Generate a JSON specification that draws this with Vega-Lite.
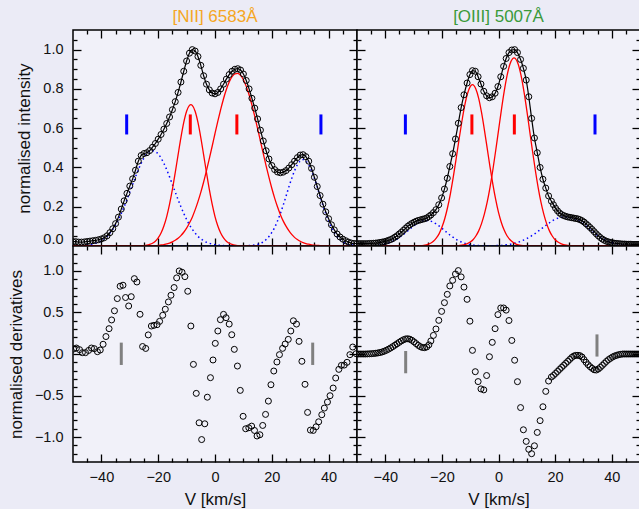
{
"$schema":"https://vega.github.io/schema/vega-lite/v6.json",
"background":"#ebebf6",
"padding":{"left":6,"top":7,"right":0,"bottom":0},
"columns":2,
"spacing":0,
"bounds":"flush",
"config":{
 "view":{"stroke":"#000","strokeWidth":1.5,"fill":"#f1f1f9"},
 "font":"Liberation Sans",
 "axis":{"domain":false,"grid":false,"tickColor":"#000","tickWidth":1.3,"labelFont":"Liberation Sans","labelFontSize":14.5,"labelColor":"#111","titleFont":"Liberation Sans","titleFontSize":17,"titleFontWeight":"normal","titleColor":"#111"},
 "title":{"font":"Liberation Sans","fontSize":17,"fontWeight":"normal"}
},
"datasets":{
"nii":[{"v":-50,"o":0.022},{"v":-49,"o":0.022},{"v":-48,"o":0.02},{"v":-47,"o":0.02},{"v":-46,"o":0.021},{"v":-45,"o":0.023},{"v":-44,"o":0.025},{"v":-43,"o":0.027},{"v":-42,"o":0.029},{"v":-41,"o":0.032},{"v":-40,"o":0.036},{"v":-39,"o":0.042},{"v":-38,"o":0.052},{"v":-37,"o":0.068},{"v":-36,"o":0.088},{"v":-35,"o":0.114},{"v":-34,"o":0.147},{"v":-33,"o":0.188},{"v":-32,"o":0.23},{"v":-31,"o":0.268},{"v":-30,"o":0.305},{"v":-29,"o":0.342},{"v":-28,"o":0.386},{"v":-27,"o":0.432},{"v":-26,"o":0.461},{"v":-25,"o":0.471},{"v":-24,"o":0.475},{"v":-23,"o":0.486},{"v":-22,"o":0.503},{"v":-21,"o":0.522},{"v":-20,"o":0.544},{"v":-19,"o":0.568},{"v":-18,"o":0.595},{"v":-17,"o":0.624},{"v":-16,"o":0.657},{"v":-15,"o":0.694},{"v":-14,"o":0.735},{"v":-13,"o":0.782},{"v":-12,"o":0.835},{"v":-11,"o":0.89},{"v":-10,"o":0.942},{"v":-9,"o":0.982},{"v":-8,"o":1.0},{"v":-7,"o":0.993},{"v":-6,"o":0.965},{"v":-5,"o":0.92},{"v":-4,"o":0.867},{"v":-3,"o":0.824},{"v":-2,"o":0.795},{"v":-1,"o":0.779},{"v":0,"o":0.775},{"v":1,"o":0.782},{"v":2,"o":0.8},{"v":3,"o":0.824},{"v":4,"o":0.85},{"v":5,"o":0.873},{"v":6,"o":0.89},{"v":7,"o":0.9},{"v":8,"o":0.903},{"v":9,"o":0.896},{"v":10,"o":0.876},{"v":11,"o":0.843},{"v":12,"o":0.8},{"v":13,"o":0.752},{"v":14,"o":0.702},{"v":15,"o":0.647},{"v":16,"o":0.59},{"v":17,"o":0.535},{"v":18,"o":0.485},{"v":19,"o":0.443},{"v":20,"o":0.41},{"v":21,"o":0.389},{"v":22,"o":0.377},{"v":23,"o":0.373},{"v":24,"o":0.376},{"v":25,"o":0.384},{"v":26,"o":0.397},{"v":27,"o":0.414},{"v":28,"o":0.432},{"v":29,"o":0.45},{"v":30,"o":0.463},{"v":31,"o":0.465},{"v":32,"o":0.455},{"v":33,"o":0.432},{"v":34,"o":0.395},{"v":35,"o":0.35},{"v":36,"o":0.303},{"v":37,"o":0.257},{"v":38,"o":0.213},{"v":39,"o":0.174},{"v":40,"o":0.139},{"v":41,"o":0.108},{"v":42,"o":0.082},{"v":43,"o":0.061},{"v":44,"o":0.046},{"v":45,"o":0.035},{"v":46,"o":0.027},{"v":47,"o":0.02},{"v":48,"o":0.015},{"v":49,"o":0.013},{"v":50,"o":0.012}],
"niid":[{"v":-49.8,"d":0.06},{"v":-48.8,"d":0.072},{"v":-47.7,"d":0.052},{"v":-46.7,"d":0.016},{"v":-45.6,"d":0.016},{"v":-44.5,"d":0.043},{"v":-43.5,"d":0.072},{"v":-42.5,"d":0.064},{"v":-41.4,"d":0.028},{"v":-40.4,"d":0.048},{"v":-39.4,"d":0.117},{"v":-38.4,"d":0.21},{"v":-37.3,"d":0.305},{"v":-36.4,"d":0.41},{"v":-35.4,"d":0.52},{"v":-34.4,"d":0.667},{"v":-33.4,"d":0.816},{"v":-32.4,"d":0.828},{"v":-31.5,"d":0.68},{"v":-30.4,"d":0.578},{"v":-29.5,"d":0.69},{"v":-28.4,"d":0.907},{"v":-27.5,"d":0.867},{"v":-26.4,"d":0.478},{"v":-25.5,"d":0.09},{"v":-24.4,"d":0.067},{"v":-23.5,"d":0.23},{"v":-22.4,"d":0.337},{"v":-21.5,"d":0.345},{"v":-20.4,"d":0.353},{"v":-19.5,"d":0.393},{"v":-18.4,"d":0.466},{"v":-17.5,"d":0.539},{"v":-16.4,"d":0.627},{"v":-15.5,"d":0.707},{"v":-14.4,"d":0.8},{"v":-13.5,"d":0.916},{"v":-12.6,"d":1.0},{"v":-11.6,"d":0.984},{"v":-10.6,"d":0.931},{"v":-9.6,"d":0.755},{"v":-8.5,"d":0.337},{"v":-7.6,"d":-0.125},{"v":-6.6,"d":-0.474},{"v":-5.6,"d":-0.828},{"v":-4.7,"d":-1.03},{"v":-3.6,"d":-0.84},{"v":-2.7,"d":-0.52},{"v":-1.6,"d":-0.285},{"v":-0.7,"d":-0.072},{"v":0.1,"d":0.128},{"v":1.0,"d":0.277},{"v":1.9,"d":0.413},{"v":3.0,"d":0.477},{"v":3.9,"d":0.437},{"v":5.0,"d":0.36},{"v":5.9,"d":0.232},{"v":6.8,"d":0.056},{"v":7.9,"d":-0.145},{"v":8.9,"d":-0.438},{"v":9.9,"d":-0.75},{"v":10.8,"d":-0.9},{"v":11.9,"d":-0.888},{"v":12.9,"d":-0.868},{"v":13.9,"d":-0.92},{"v":14.8,"d":-0.987},{"v":15.8,"d":-0.972},{"v":16.8,"d":-0.86},{"v":17.8,"d":-0.727},{"v":18.8,"d":-0.567},{"v":19.7,"d":-0.37},{"v":20.7,"d":-0.205},{"v":21.8,"d":-0.096},{"v":22.7,"d":-0.008},{"v":23.8,"d":0.068},{"v":24.7,"d":0.12},{"v":25.8,"d":0.176},{"v":26.7,"d":0.277},{"v":27.6,"d":0.4},{"v":28.7,"d":0.36},{"v":29.6,"d":0.152},{"v":30.6,"d":-0.088},{"v":31.7,"d":-0.365},{"v":32.6,"d":-0.703},{"v":33.6,"d":-0.916},{"v":34.6,"d":-0.92},{"v":35.6,"d":-0.876},{"v":36.5,"d":-0.816},{"v":37.6,"d":-0.731},{"v":38.5,"d":-0.651},{"v":39.6,"d":-0.578},{"v":40.5,"d":-0.502},{"v":41.6,"d":-0.41},{"v":42.5,"d":-0.289},{"v":43.6,"d":-0.185},{"v":44.5,"d":-0.137},{"v":45.5,"d":-0.133},{"v":46.5,"d":-0.1},{"v":47.5,"d":-0.008},{"v":48.5,"d":0.084},{"v":49.7,"d":0.004}],
"oiii":[{"v":-50.1,"o":0.012,"d":0},{"v":-49.35,"o":0.012,"d":0},{"v":-48.6,"o":0.012,"d":0},{"v":-47.85,"o":0.012,"d":0},{"v":-47.1,"o":0.012,"d":0},{"v":-46.35,"o":0.012,"d":0.001},{"v":-45.6,"o":0.013,"d":0.002},{"v":-44.85,"o":0.013,"d":0.004},{"v":-44.1,"o":0.014,"d":0.006},{"v":-43.35,"o":0.015,"d":0.009},{"v":-42.6,"o":0.016,"d":0.013},{"v":-41.85,"o":0.018,"d":0.018},{"v":-41.1,"o":0.02,"d":0.025},{"v":-40.35,"o":0.022,"d":0.034},{"v":-39.6,"o":0.025,"d":0.045},{"v":-38.85,"o":0.029,"d":0.058},{"v":-38.1,"o":0.033,"d":0.073},{"v":-37.35,"o":0.038,"d":0.089},{"v":-36.6,"o":0.045,"d":0.106},{"v":-35.85,"o":0.052,"d":0.123},{"v":-35.1,"o":0.061,"d":0.14},{"v":-34.35,"o":0.07,"d":0.157},{"v":-33.6,"o":0.08,"d":0.171},{"v":-32.85,"o":0.09,"d":0.181},{"v":-32.1,"o":0.1,"d":0.184},{"v":-31.35,"o":0.108,"d":0.178},{"v":-30.6,"o":0.115,"d":0.165},{"v":-29.85,"o":0.121,"d":0.146},{"v":-29.1,"o":0.126,"d":0.125},{"v":-28.35,"o":0.13,"d":0.104},{"v":-27.6,"o":0.133,"d":0.088},{"v":-26.85,"o":0.136,"d":0.078},{"v":-26.1,"o":0.139,"d":0.076},{"v":-25.35,"o":0.143,"d":0.085},{"v":-24.6,"o":0.15,"d":0.11},{"v":-23.9,"o":0.158,"d":0.157},{"v":-23.0,"o":0.17,"d":0.224},{"v":-22.1,"o":0.185,"d":0.301},{"v":-21.1,"o":0.21,"d":0.405},{"v":-20.1,"o":0.245,"d":0.513},{"v":-19.1,"o":0.29,"d":0.618},{"v":-18.1,"o":0.345,"d":0.718},{"v":-17.2,"o":0.405,"d":0.819},{"v":-16.2,"o":0.47,"d":0.887},{"v":-15.2,"o":0.545,"d":0.963},{"v":-14.2,"o":0.625,"d":1.004},{"v":-13.2,"o":0.705,"d":0.928},{"v":-12.2,"o":0.77,"d":0.805},{"v":-11.1,"o":0.83,"d":0.658},{"v":-10.1,"o":0.873,"d":0.395},{"v":-9.2,"o":0.893,"d":0.044},{"v":-8.2,"o":0.89,"d":-0.213},{"v":-7.2,"o":0.862,"d":-0.332},{"v":-6.2,"o":0.825,"d":-0.42},{"v":-5.2,"o":0.788,"d":-0.432},{"v":-4.2,"o":0.765,"d":-0.259},{"v":-3.2,"o":0.755,"d":-0.033},{"v":-2.2,"o":0.76,"d":0.14},{"v":-1.2,"o":0.778,"d":0.305},{"v":-0.2,"o":0.812,"d":0.474},{"v":0.8,"o":0.862,"d":0.554},{"v":1.8,"o":0.915,"d":0.554},{"v":2.7,"o":0.955,"d":0.528},{"v":3.7,"o":0.985,"d":0.403},{"v":4.7,"o":0.998,"d":0.163},{"v":5.7,"o":1.0,"d":-0.075},{"v":6.7,"o":0.985,"d":-0.333},{"v":7.8,"o":0.95,"d":-0.645},{"v":8.8,"o":0.905,"d":-0.912},{"v":9.8,"o":0.845,"d":-1.052},{"v":10.7,"o":0.76,"d":-1.147},{"v":11.7,"o":0.65,"d":-1.2},{"v":12.7,"o":0.55,"d":-1.105},{"v":13.7,"o":0.475,"d":-0.944},{"v":14.7,"o":0.4,"d":-0.802},{"v":15.7,"o":0.34,"d":-0.635},{"v":16.7,"o":0.295,"d":-0.45},{"v":17.7,"o":0.255,"d":-0.325},{"v":18.7,"o":0.228,"d":-0.277},{"v":19.42,"o":0.21,"d":-0.258},{"v":20.14,"o":0.193,"d":-0.234},{"v":20.86,"o":0.179,"d":-0.21},{"v":21.58,"o":0.168,"d":-0.185},{"v":22.3,"o":0.16,"d":-0.161},{"v":23.02,"o":0.155,"d":-0.137},{"v":23.74,"o":0.151,"d":-0.113},{"v":24.46,"o":0.148,"d":-0.089},{"v":25.18,"o":0.146,"d":-0.065},{"v":25.9,"o":0.144,"d":-0.041},{"v":26.62,"o":0.142,"d":-0.024},{"v":27.34,"o":0.14,"d":-0.016},{"v":28.06,"o":0.138,"d":-0.016},{"v":28.78,"o":0.134,"d":-0.02},{"v":29.5,"o":0.129,"d":-0.036},{"v":30.22,"o":0.122,"d":-0.068},{"v":30.94,"o":0.113,"d":-0.1},{"v":31.66,"o":0.104,"d":-0.129},{"v":32.38,"o":0.094,"d":-0.153},{"v":33.1,"o":0.084,"d":-0.173},{"v":33.82,"o":0.073,"d":-0.19},{"v":34.54,"o":0.062,"d":-0.193},{"v":35.26,"o":0.052,"d":-0.181},{"v":35.98,"o":0.043,"d":-0.161},{"v":36.7,"o":0.035,"d":-0.137},{"v":37.42,"o":0.029,"d":-0.113},{"v":38.14,"o":0.024,"d":-0.089},{"v":38.86,"o":0.021,"d":-0.068},{"v":39.58,"o":0.018,"d":-0.052},{"v":40.3,"o":0.016,"d":-0.036},{"v":41.02,"o":0.014,"d":-0.024},{"v":41.74,"o":0.013,"d":-0.016},{"v":42.46,"o":0.012,"d":-0.008},{"v":43.18,"o":0.011,"d":-0.004},{"v":43.9,"o":0.01,"d":0},{"v":44.62,"o":0.01,"d":0},{"v":45.34,"o":0.009,"d":0},{"v":46.06,"o":0.009,"d":0},{"v":46.78,"o":0.009,"d":0},{"v":47.5,"o":0.008,"d":0},{"v":48.22,"o":0.008,"d":0},{"v":48.94,"o":0.008,"d":0},{"v":49.66,"o":0.008,"d":0},{"v":50.38,"o":0.008,"d":0}],
"niic":[
{"s":"r1","v":-50,"y":0},{"s":"r1","v":-27,"y":0},{"s":"r1","v":-26,"y":0.001},{"s":"r1","v":-25,"y":0.002},{"s":"r1","v":-24,"y":0.004},{"s":"r1","v":-23,"y":0.008},{"s":"r1","v":-22,"y":0.014},{"s":"r1","v":-21,"y":0.024},{"s":"r1","v":-20,"y":0.041},{"s":"r1","v":-19,"y":0.066},{"s":"r1","v":-18,"y":0.102},{"s":"r1","v":-17,"y":0.15},{"s":"r1","v":-16,"y":0.213},{"s":"r1","v":-15,"y":0.288},{"s":"r1","v":-14,"y":0.374},{"s":"r1","v":-13,"y":0.464},{"s":"r1","v":-12,"y":0.552},{"s":"r1","v":-11,"y":0.629},{"s":"r1","v":-10,"y":0.686},{"s":"r1","v":-9,"y":0.716},{"s":"r1","v":-8.5,"y":0.72},{"s":"r1","v":-8,"y":0.716},{"s":"r1","v":-7,"y":0.686},{"s":"r1","v":-6,"y":0.629},{"s":"r1","v":-5,"y":0.552},{"s":"r1","v":-4,"y":0.464},{"s":"r1","v":-3,"y":0.374},{"s":"r1","v":-2,"y":0.288},{"s":"r1","v":-1,"y":0.213},{"s":"r1","v":0,"y":0.15},{"s":"r1","v":1,"y":0.102},{"s":"r1","v":2,"y":0.066},{"s":"r1","v":3,"y":0.041},{"s":"r1","v":4,"y":0.024},{"s":"r1","v":5,"y":0.014},{"s":"r1","v":6,"y":0.008},{"s":"r1","v":7,"y":0.004},{"s":"r1","v":8,"y":0.002},{"s":"r1","v":9,"y":0.001},{"s":"r1","v":10,"y":0},{"s":"r1","v":50,"y":0},
{"s":"r2","v":-50,"y":0},{"s":"r2","v":-21,"y":0},{"s":"r2","v":-20,"y":0.003},{"s":"r2","v":-19,"y":0.005},{"s":"r2","v":-18,"y":0.007},{"s":"r2","v":-17,"y":0.011},{"s":"r2","v":-16,"y":0.015},{"s":"r2","v":-15,"y":0.021},{"s":"r2","v":-14,"y":0.029},{"s":"r2","v":-13,"y":0.039},{"s":"r2","v":-12,"y":0.053},{"s":"r2","v":-11,"y":0.07},{"s":"r2","v":-10,"y":0.091},{"s":"r2","v":-9,"y":0.117},{"s":"r2","v":-8,"y":0.147},{"s":"r2","v":-7,"y":0.184},{"s":"r2","v":-6,"y":0.226},{"s":"r2","v":-5,"y":0.273},{"s":"r2","v":-4,"y":0.326},{"s":"r2","v":-3,"y":0.384},{"s":"r2","v":-2,"y":0.445},{"s":"r2","v":-1,"y":0.508},{"s":"r2","v":0,"y":0.573},{"s":"r2","v":1,"y":0.636},{"s":"r2","v":2,"y":0.695},{"s":"r2","v":3,"y":0.75},{"s":"r2","v":4,"y":0.797},{"s":"r2","v":5,"y":0.835},{"s":"r2","v":6,"y":0.862},{"s":"r2","v":7,"y":0.877},{"s":"r2","v":8,"y":0.879},{"s":"r2","v":9,"y":0.869},{"s":"r2","v":10,"y":0.847},{"s":"r2","v":11,"y":0.813},{"s":"r2","v":12,"y":0.77},{"s":"r2","v":13,"y":0.718},{"s":"r2","v":14,"y":0.66},{"s":"r2","v":15,"y":0.598},{"s":"r2","v":16,"y":0.534},{"s":"r2","v":17,"y":0.47},{"s":"r2","v":18,"y":0.408},{"s":"r2","v":19,"y":0.349},{"s":"r2","v":20,"y":0.294},{"s":"r2","v":21,"y":0.244},{"s":"r2","v":22,"y":0.2},{"s":"r2","v":23,"y":0.161},{"s":"r2","v":24,"y":0.128},{"s":"r2","v":25,"y":0.101},{"s":"r2","v":26,"y":0.078},{"s":"r2","v":27,"y":0.059},{"s":"r2","v":28,"y":0.044},{"s":"r2","v":29,"y":0.033},{"s":"r2","v":30,"y":0.024},{"s":"r2","v":31,"y":0.017},{"s":"r2","v":32,"y":0.012},{"s":"r2","v":33,"y":0.009},{"s":"r2","v":34,"y":0.006},{"s":"r2","v":35,"y":0.004},{"s":"r2","v":36,"y":0.003},{"s":"r2","v":37,"y":0.002},{"s":"r2","v":38,"y":0.001},{"s":"r2","v":40,"y":0},{"s":"r2","v":50,"y":0},
{"s":"b1","v":-50,"y":0},{"s":"b1","v":-49,"y":0.001},{"s":"b1","v":-48,"y":0.001},{"s":"b1","v":-47,"y":0.002},{"s":"b1","v":-46,"y":0.003},{"s":"b1","v":-45,"y":0.005},{"s":"b1","v":-44,"y":0.007},{"s":"b1","v":-43,"y":0.01},{"s":"b1","v":-42,"y":0.014},{"s":"b1","v":-41,"y":0.019},{"s":"b1","v":-40,"y":0.027},{"s":"b1","v":-39,"y":0.037},{"s":"b1","v":-38,"y":0.049},{"s":"b1","v":-37,"y":0.066},{"s":"b1","v":-36,"y":0.085},{"s":"b1","v":-35,"y":0.108},{"s":"b1","v":-34,"y":0.135},{"s":"b1","v":-33,"y":0.166},{"s":"b1","v":-32,"y":0.2},{"s":"b1","v":-31,"y":0.236},{"s":"b1","v":-30,"y":0.275},{"s":"b1","v":-29,"y":0.313},{"s":"b1","v":-28,"y":0.352},{"s":"b1","v":-27,"y":0.388},{"s":"b1","v":-26,"y":0.421},{"s":"b1","v":-25,"y":0.448},{"s":"b1","v":-24,"y":0.469},{"s":"b1","v":-23,"y":0.481},{"s":"b1","v":-22,"y":0.485},{"s":"b1","v":-21,"y":0.481},{"s":"b1","v":-20,"y":0.469},{"s":"b1","v":-19,"y":0.448},{"s":"b1","v":-18,"y":0.421},{"s":"b1","v":-17,"y":0.388},{"s":"b1","v":-16,"y":0.352},{"s":"b1","v":-15,"y":0.313},{"s":"b1","v":-14,"y":0.275},{"s":"b1","v":-13,"y":0.236},{"s":"b1","v":-12,"y":0.2},{"s":"b1","v":-11,"y":0.166},{"s":"b1","v":-10,"y":0.135},{"s":"b1","v":-9,"y":0.108},{"s":"b1","v":-8,"y":0.085},{"s":"b1","v":-7,"y":0.066},{"s":"b1","v":-6,"y":0.049},{"s":"b1","v":-5,"y":0.037},{"s":"b1","v":-4,"y":0.027},{"s":"b1","v":-3,"y":0.019},{"s":"b1","v":-2,"y":0.014},{"s":"b1","v":-1,"y":0.01},{"s":"b1","v":0,"y":0.007},{"s":"b1","v":1,"y":0.005},{"s":"b1","v":2,"y":0.003},{"s":"b1","v":3,"y":0.002},{"s":"b1","v":4,"y":0.001},{"s":"b1","v":6,"y":0},{"s":"b1","v":50,"y":0},
{"s":"b2","v":-50,"y":0},{"s":"b2","v":9,"y":0},{"s":"b2","v":10,"y":0.001},{"s":"b2","v":11,"y":0.001},{"s":"b2","v":12,"y":0.002},{"s":"b2","v":13,"y":0.003},{"s":"b2","v":14,"y":0.005},{"s":"b2","v":15,"y":0.008},{"s":"b2","v":16,"y":0.013},{"s":"b2","v":17,"y":0.021},{"s":"b2","v":18,"y":0.033},{"s":"b2","v":19,"y":0.048},{"s":"b2","v":20,"y":0.069},{"s":"b2","v":21,"y":0.094},{"s":"b2","v":22,"y":0.127},{"s":"b2","v":23,"y":0.165},{"s":"b2","v":24,"y":0.207},{"s":"b2","v":25,"y":0.253},{"s":"b2","v":26,"y":0.3},{"s":"b2","v":27,"y":0.344},{"s":"b2","v":28,"y":0.383},{"s":"b2","v":29,"y":0.413},{"s":"b2","v":30,"y":0.433},{"s":"b2","v":31,"y":0.44},{"s":"b2","v":32,"y":0.433},{"s":"b2","v":33,"y":0.413},{"s":"b2","v":34,"y":0.383},{"s":"b2","v":35,"y":0.344},{"s":"b2","v":36,"y":0.3},{"s":"b2","v":37,"y":0.253},{"s":"b2","v":38,"y":0.207},{"s":"b2","v":39,"y":0.165},{"s":"b2","v":40,"y":0.127},{"s":"b2","v":41,"y":0.094},{"s":"b2","v":42,"y":0.069},{"s":"b2","v":43,"y":0.048},{"s":"b2","v":44,"y":0.033},{"s":"b2","v":45,"y":0.021},{"s":"b2","v":46,"y":0.013},{"s":"b2","v":47,"y":0.008},{"s":"b2","v":48,"y":0.005},{"s":"b2","v":49,"y":0.003},{"s":"b2","v":50,"y":0.002}],
"oiiic":[
{"s":"r1","v":-50,"y":0},{"s":"r1","v":-29,"y":0},{"s":"r1","v":-28,"y":0.001},{"s":"r1","v":-27,"y":0.002},{"s":"r1","v":-26,"y":0.004},{"s":"r1","v":-25,"y":0.008},{"s":"r1","v":-24,"y":0.014},{"s":"r1","v":-23,"y":0.024},{"s":"r1","v":-22,"y":0.04},{"s":"r1","v":-21,"y":0.062},{"s":"r1","v":-20,"y":0.095},{"s":"r1","v":-19,"y":0.139},{"s":"r1","v":-18,"y":0.196},{"s":"r1","v":-17,"y":0.266},{"s":"r1","v":-16,"y":0.349},{"s":"r1","v":-15,"y":0.441},{"s":"r1","v":-14,"y":0.537},{"s":"r1","v":-13,"y":0.629},{"s":"r1","v":-12,"y":0.711},{"s":"r1","v":-11,"y":0.774},{"s":"r1","v":-10,"y":0.812},{"s":"r1","v":-9.2,"y":0.822},{"s":"r1","v":-8,"y":0.8},{"s":"r1","v":-7,"y":0.752},{"s":"r1","v":-6,"y":0.68},{"s":"r1","v":-5,"y":0.593},{"s":"r1","v":-4,"y":0.498},{"s":"r1","v":-3,"y":0.403},{"s":"r1","v":-2,"y":0.315},{"s":"r1","v":-1,"y":0.237},{"s":"r1","v":0,"y":0.171},{"s":"r1","v":1,"y":0.12},{"s":"r1","v":2,"y":0.081},{"s":"r1","v":3,"y":0.052},{"s":"r1","v":4,"y":0.033},{"s":"r1","v":5,"y":0.02},{"s":"r1","v":6,"y":0.011},{"s":"r1","v":7,"y":0.006},{"s":"r1","v":8,"y":0.003},{"s":"r1","v":9,"y":0.002},{"s":"r1","v":10,"y":0.001},{"s":"r1","v":11,"y":0},{"s":"r1","v":50,"y":0},
{"s":"r2","v":-50,"y":0},{"s":"r2","v":-15,"y":0},{"s":"r2","v":-14,"y":0.002},{"s":"r2","v":-13,"y":0.004},{"s":"r2","v":-12,"y":0.007},{"s":"r2","v":-11,"y":0.012},{"s":"r2","v":-10,"y":0.02},{"s":"r2","v":-9,"y":0.032},{"s":"r2","v":-8,"y":0.051},{"s":"r2","v":-7,"y":0.077},{"s":"r2","v":-6,"y":0.114},{"s":"r2","v":-5,"y":0.162},{"s":"r2","v":-4,"y":0.223},{"s":"r2","v":-3,"y":0.299},{"s":"r2","v":-2,"y":0.387},{"s":"r2","v":-1,"y":0.485},{"s":"r2","v":0,"y":0.588},{"s":"r2","v":1,"y":0.691},{"s":"r2","v":2,"y":0.786},{"s":"r2","v":3,"y":0.866},{"s":"r2","v":4,"y":0.924},{"s":"r2","v":5,"y":0.954},{"s":"r2","v":5.5,"y":0.958},{"s":"r2","v":6,"y":0.954},{"s":"r2","v":7,"y":0.924},{"s":"r2","v":8,"y":0.866},{"s":"r2","v":9,"y":0.786},{"s":"r2","v":10,"y":0.691},{"s":"r2","v":11,"y":0.588},{"s":"r2","v":12,"y":0.485},{"s":"r2","v":13,"y":0.387},{"s":"r2","v":14,"y":0.299},{"s":"r2","v":15,"y":0.223},{"s":"r2","v":16,"y":0.162},{"s":"r2","v":17,"y":0.114},{"s":"r2","v":18,"y":0.077},{"s":"r2","v":19,"y":0.051},{"s":"r2","v":20,"y":0.032},{"s":"r2","v":21,"y":0.02},{"s":"r2","v":22,"y":0.012},{"s":"r2","v":23,"y":0.007},{"s":"r2","v":24,"y":0.004},{"s":"r2","v":25,"y":0.002},{"s":"r2","v":26,"y":0.001},{"s":"r2","v":27,"y":0},{"s":"r2","v":50,"y":0},
{"s":"b1","v":-50,"y":0},{"s":"b1","v":-46,"y":0},{"s":"b1","v":-45,"y":0.001},{"s":"b1","v":-44,"y":0.002},{"s":"b1","v":-43,"y":0.003},{"s":"b1","v":-42,"y":0.005},{"s":"b1","v":-41,"y":0.007},{"s":"b1","v":-40,"y":0.01},{"s":"b1","v":-39,"y":0.014},{"s":"b1","v":-38,"y":0.02},{"s":"b1","v":-37,"y":0.026},{"s":"b1","v":-36,"y":0.034},{"s":"b1","v":-35,"y":0.044},{"s":"b1","v":-34,"y":0.054},{"s":"b1","v":-33,"y":0.066},{"s":"b1","v":-32,"y":0.078},{"s":"b1","v":-31,"y":0.09},{"s":"b1","v":-30,"y":0.102},{"s":"b1","v":-29,"y":0.112},{"s":"b1","v":-28,"y":0.121},{"s":"b1","v":-27,"y":0.127},{"s":"b1","v":-26,"y":0.13},{"s":"b1","v":-25,"y":0.13},{"s":"b1","v":-24,"y":0.127},{"s":"b1","v":-23,"y":0.121},{"s":"b1","v":-22,"y":0.112},{"s":"b1","v":-21,"y":0.102},{"s":"b1","v":-20,"y":0.09},{"s":"b1","v":-19,"y":0.078},{"s":"b1","v":-18,"y":0.066},{"s":"b1","v":-17,"y":0.054},{"s":"b1","v":-16,"y":0.044},{"s":"b1","v":-15,"y":0.034},{"s":"b1","v":-14,"y":0.026},{"s":"b1","v":-13,"y":0.02},{"s":"b1","v":-12,"y":0.014},{"s":"b1","v":-11,"y":0.01},{"s":"b1","v":-10,"y":0.007},{"s":"b1","v":-9,"y":0.005},{"s":"b1","v":-8,"y":0.003},{"s":"b1","v":-7,"y":0.002},{"s":"b1","v":-6,"y":0.001},{"s":"b1","v":-5,"y":0},{"s":"b1","v":50,"y":0},
{"s":"b2","v":-50,"y":0},{"s":"b2","v":-2,"y":0},{"s":"b2","v":0,"y":0.003},{"s":"b2","v":1,"y":0.003},{"s":"b2","v":2,"y":0.005},{"s":"b2","v":3,"y":0.007},{"s":"b2","v":4,"y":0.009},{"s":"b2","v":5,"y":0.012},{"s":"b2","v":6,"y":0.015},{"s":"b2","v":7,"y":0.019},{"s":"b2","v":8,"y":0.025},{"s":"b2","v":9,"y":0.031},{"s":"b2","v":10,"y":0.038},{"s":"b2","v":11,"y":0.046},{"s":"b2","v":12,"y":0.055},{"s":"b2","v":13,"y":0.064},{"s":"b2","v":14,"y":0.075},{"s":"b2","v":15,"y":0.086},{"s":"b2","v":16,"y":0.097},{"s":"b2","v":17,"y":0.108},{"s":"b2","v":18,"y":0.118},{"s":"b2","v":19,"y":0.128},{"s":"b2","v":20,"y":0.136},{"s":"b2","v":21,"y":0.142},{"s":"b2","v":22,"y":0.146},{"s":"b2","v":23,"y":0.147},{"s":"b2","v":24,"y":0.147},{"s":"b2","v":25,"y":0.146},{"s":"b2","v":26,"y":0.143},{"s":"b2","v":27,"y":0.138},{"s":"b2","v":28,"y":0.131},{"s":"b2","v":29,"y":0.122},{"s":"b2","v":30,"y":0.112},{"s":"b2","v":31,"y":0.1},{"s":"b2","v":32,"y":0.088},{"s":"b2","v":33,"y":0.076},{"s":"b2","v":34,"y":0.065},{"s":"b2","v":35,"y":0.054},{"s":"b2","v":36,"y":0.044},{"s":"b2","v":37,"y":0.036},{"s":"b2","v":38,"y":0.029},{"s":"b2","v":39,"y":0.023},{"s":"b2","v":40,"y":0.018},{"s":"b2","v":41,"y":0.014},{"s":"b2","v":42,"y":0.011},{"s":"b2","v":43,"y":0.008},{"s":"b2","v":44,"y":0.006},{"s":"b2","v":45,"y":0.004},{"s":"b2","v":46,"y":0.003},{"s":"b2","v":47,"y":0.002},{"s":"b2","v":48,"y":0.001},{"s":"b2","v":50,"y":0}]
},
"concat":[
{
 "width":284,"height":216,
 "title":{"text":"[NII] 6583Å","color":"#f5a623","offset":3},
 "layer":[
  {"data":{"name":"niic"},"transform":[{"filter":"datum.s === 'b1' || datum.s === 'b2'"}],
   "mark":{"type":"line","color":"#0000ff","strokeWidth":1.5,"strokeDash":[1.5,3],"interpolate":"monotone","clip":true},
   "encoding":{"x":{"field":"v","type":"quantitative","scale":{"domain":[-50,50],"nice":false,"zero":false},"axis":{"orient":"bottom","values":[-40,-20,0,20,40],"labels":false,"tickSize":-8,"title":null}},
     "y":{"field":"y","type":"quantitative","scale":{"domain":[0,1.1],"nice":false,"zero":false},"axis":{"orient":"left","values":[0,0.2,0.4,0.6,0.8,1],"format":".1f","tickSize":-8,"labelPadding":18,"labelFlush":true,"title":"normalised intensity","titlePadding":9}},
     "detail":{"field":"s"}}},
  {"data":{"name":"niic"},"transform":[{"filter":"datum.s === 'r1' || datum.s === 'r2'"}],
   "mark":{"type":"line","color":"#ff0000","strokeWidth":1.3,"interpolate":"monotone","clip":true},
   "encoding":{"x":{"field":"v","type":"quantitative","axis":{"orient":"top","values":[-40,-20,0,20,40],"labels":false,"tickSize":-8,"title":null}},
     "y":{"field":"y","type":"quantitative","axis":{"orient":"right","values":[0,0.2,0.4,0.6,0.8,1],"labels":false,"tickSize":-8,"title":null}},
     "detail":{"field":"s"}}},
  {"data":{"name":"nii"},
   "mark":{"type":"line","color":"#000","strokeWidth":1.2,"interpolate":"monotone","clip":true},
   "encoding":{"x":{"field":"v","type":"quantitative","axis":{"orient":"bottom","values":[-45,-35,-30,-25,-15,-10,-5,5,10,15,25,30,35,45],"labels":false,"tickSize":-4,"title":null}},
     "y":{"field":"o","type":"quantitative","axis":{"orient":"left","values":[0.05,0.1,0.15,0.25,0.3,0.35,0.45,0.5,0.55,0.65,0.7,0.75,0.85,0.9,0.95,1.05],"labels":false,"tickSize":-4,"title":null}}}},
  {"data":{"name":"nii"},
   "mark":{"type":"point","shape":"circle","filled":false,"color":"#000","size":36,"strokeWidth":1,"opacity":1,"clip":true},
   "encoding":{"x":{"field":"v","type":"quantitative","axis":{"orient":"top","values":[-45,-35,-30,-25,-15,-10,-5,5,10,15,25,30,35,45],"labels":false,"tickSize":-4,"title":null}},
     "y":{"field":"o","type":"quantitative","axis":{"orient":"right","values":[0.05,0.1,0.15,0.25,0.3,0.35,0.45,0.5,0.55,0.65,0.7,0.75,0.85,0.9,0.95,1.05],"labels":false,"tickSize":-4,"title":null}}}},
  {"data":{"values":[{"v":-31.1,"a":0.568,"b":0.67,"c":"b"},{"v":-8.7,"a":0.568,"b":0.67,"c":"r"},{"v":7.7,"a":0.568,"b":0.67,"c":"r"},{"v":37.3,"a":0.568,"b":0.67,"c":"b"}]},
   "mark":{"type":"rule","strokeWidth":3,"clip":true},
   "encoding":{"x":{"field":"v","type":"quantitative","axis":null},"y":{"field":"a","type":"quantitative","axis":null},"y2":{"field":"b"},
     "color":{"field":"c","type":"nominal","scale":{"domain":["b","r","g"],"range":["#0000ff","#ff0000","#808080"]},"legend":null}}}
 ],
 "resolve":{"axis":{"x":"independent","y":"independent"}}
},
{
 "width":283,"height":216,
 "title":{"text":"[OIII] 5007Å","color":"#3a9a3a","offset":3},
 "layer":[
  {"data":{"name":"oiiic"},"transform":[{"filter":"datum.s === 'b1' || datum.s === 'b2'"}],
   "mark":{"type":"line","color":"#0000ff","strokeWidth":1.5,"strokeDash":[1.5,3],"interpolate":"monotone","clip":true},
   "encoding":{"x":{"field":"v","type":"quantitative","scale":{"domain":[-50,50],"nice":false,"zero":false},"axis":{"orient":"bottom","values":[-40,-20,0,20,40],"labels":false,"tickSize":-8,"title":null}},
     "y":{"field":"y","type":"quantitative","scale":{"domain":[0,1.1],"nice":false,"zero":false},"axis":{"orient":"left","values":[0,0.2,0.4,0.6,0.8,1],"labels":false,"tickSize":-8,"title":null}},
     "detail":{"field":"s"}}},
  {"data":{"name":"oiiic"},"transform":[{"filter":"datum.s === 'r1' || datum.s === 'r2'"}],
   "mark":{"type":"line","color":"#ff0000","strokeWidth":1.3,"interpolate":"monotone","clip":true},
   "encoding":{"x":{"field":"v","type":"quantitative","axis":{"orient":"top","values":[-40,-20,0,20,40],"labels":false,"tickSize":-8,"title":null}},
     "y":{"field":"y","type":"quantitative","axis":{"orient":"right","values":[0,0.2,0.4,0.6,0.8,1],"labels":false,"tickSize":-8,"title":null}},
     "detail":{"field":"s"}}},
  {"data":{"name":"oiii"},
   "mark":{"type":"line","color":"#000","strokeWidth":1.2,"interpolate":"monotone","clip":true},
   "encoding":{"x":{"field":"v","type":"quantitative","axis":{"orient":"bottom","values":[-45,-35,-30,-25,-15,-10,-5,5,10,15,25,30,35,45],"labels":false,"tickSize":-4,"title":null}},
     "y":{"field":"o","type":"quantitative","axis":{"orient":"left","values":[0.05,0.1,0.15,0.25,0.3,0.35,0.45,0.5,0.55,0.65,0.7,0.75,0.85,0.9,0.95,1.05],"labels":false,"tickSize":-4,"title":null}}}},
  {"data":{"name":"oiii"},
   "mark":{"type":"point","shape":"circle","filled":false,"color":"#000","size":36,"strokeWidth":1,"opacity":1,"clip":true},
   "encoding":{"x":{"field":"v","type":"quantitative","axis":{"orient":"top","values":[-45,-35,-30,-25,-15,-10,-5,5,10,15,25,30,35,45],"labels":false,"tickSize":-4,"title":null}},
     "y":{"field":"o","type":"quantitative","axis":{"orient":"right","values":[0.05,0.1,0.15,0.25,0.3,0.35,0.45,0.5,0.55,0.65,0.7,0.75,0.85,0.9,0.95,1.05],"labels":false,"tickSize":-4,"title":null}}}},
  {"data":{"values":[{"v":-32.9,"a":0.568,"b":0.67,"c":"b"},{"v":-9.4,"a":0.568,"b":0.67,"c":"r"},{"v":5.6,"a":0.568,"b":0.67,"c":"r"},{"v":34.1,"a":0.568,"b":0.67,"c":"b"}]},
   "mark":{"type":"rule","strokeWidth":3,"clip":true},
   "encoding":{"x":{"field":"v","type":"quantitative","axis":null},"y":{"field":"a","type":"quantitative","axis":null},"y2":{"field":"b"},
     "color":{"field":"c","type":"nominal","scale":{"domain":["b","r","g"],"range":["#0000ff","#ff0000","#808080"]},"legend":null}}}
 ],
 "resolve":{"axis":{"x":"independent","y":"independent"}}
},
{
 "width":284,"height":216,
 "layer":[
  {"data":{"name":"niid"},
   "mark":{"type":"point","shape":"circle","filled":false,"color":"#000","size":36,"strokeWidth":1,"opacity":1,"clip":true},
   "encoding":{"x":{"field":"v","type":"quantitative","scale":{"domain":[-50,50],"nice":false,"zero":false},"axis":{"orient":"bottom","values":[-40,-20,0,20,40],"format":"d","tickSize":-8,"labelPadding":16,"title":"V [km/s]","titlePadding":8}},
     "y":{"field":"d","type":"quantitative","scale":{"domain":[-1.3,1.3],"nice":false,"zero":false},"axis":{"orient":"left","values":[-1,-0.5,0,0.5,1],"format":".1f","tickSize":-8,"labelPadding":18,"title":"normalised derivatives","titlePadding":9}}}},
  {"data":{"values":[{"v":-33.0,"a":-0.132,"b":0.137,"c":"g"},{"v":34.4,"a":-0.132,"b":0.137,"c":"g"}]},
   "mark":{"type":"rule","strokeWidth":3,"clip":true},
   "encoding":{"x":{"field":"v","type":"quantitative","axis":{"orient":"top","values":[-40,-20,0,20,40],"labels":false,"tickSize":-8,"title":null}},
     "y":{"field":"a","type":"quantitative","axis":{"orient":"right","values":[-1,-0.5,0,0.5,1],"labels":false,"tickSize":-8,"title":null}},"y2":{"field":"b"},
     "color":{"field":"c","type":"nominal","scale":{"domain":["b","r","g"],"range":["#0000ff","#ff0000","#808080"]},"legend":null}}},
  {"data":{"name":"niid"},
   "mark":{"type":"point","opacity":0,"clip":true},
   "encoding":{"x":{"field":"v","type":"quantitative","axis":{"orient":"bottom","values":[-45,-35,-30,-25,-15,-10,-5,5,10,15,25,30,35,45],"labels":false,"tickSize":-4,"title":null}},
     "y":{"field":"d","type":"quantitative","axis":{"orient":"left","values":[-1.2,-1.1,-0.9,-0.8,-0.7,-0.6,-0.4,-0.3,-0.2,-0.1,0.1,0.2,0.3,0.4,0.6,0.7,0.8,0.9,1.1,1.2],"labels":false,"tickSize":-4,"title":null}}}},
  {"data":{"name":"niid"},
   "mark":{"type":"point","opacity":0,"clip":true},
   "encoding":{"x":{"field":"v","type":"quantitative","axis":{"orient":"top","values":[-45,-35,-30,-25,-15,-10,-5,5,10,15,25,30,35,45],"labels":false,"tickSize":-4,"title":null}},
     "y":{"field":"d","type":"quantitative","axis":{"orient":"right","values":[-1.2,-1.1,-0.9,-0.8,-0.7,-0.6,-0.4,-0.3,-0.2,-0.1,0.1,0.2,0.3,0.4,0.6,0.7,0.8,0.9,1.1,1.2],"labels":false,"tickSize":-4,"title":null}}}}
 ],
 "resolve":{"axis":{"x":"independent","y":"independent"}}
},
{
 "width":283,"height":216,
 "layer":[
  {"data":{"name":"oiii"},
   "mark":{"type":"point","shape":"circle","filled":false,"color":"#000","size":36,"strokeWidth":1,"opacity":1,"clip":true},
   "encoding":{"x":{"field":"v","type":"quantitative","scale":{"domain":[-50,50],"nice":false,"zero":false},"axis":{"orient":"bottom","values":[-40,-20,0,20,40],"format":"d","tickSize":-8,"labelPadding":16,"title":"V [km/s]","titlePadding":8}},
     "y":{"field":"d","type":"quantitative","scale":{"domain":[-1.3,1.3],"nice":false,"zero":false},"axis":{"orient":"left","values":[-1,-0.5,0,0.5,1],"labels":false,"tickSize":-8,"title":null}}}},
  {"data":{"values":[{"v":-32.8,"a":-0.232,"b":0.036,"c":"g"},{"v":34.8,"a":-0.031,"b":0.236,"c":"g"}]},
   "mark":{"type":"rule","strokeWidth":3,"clip":true},
   "encoding":{"x":{"field":"v","type":"quantitative","axis":{"orient":"top","values":[-40,-20,0,20,40],"labels":false,"tickSize":-8,"title":null}},
     "y":{"field":"a","type":"quantitative","axis":{"orient":"right","values":[-1,-0.5,0,0.5,1],"labels":false,"tickSize":-8,"title":null}},"y2":{"field":"b"},
     "color":{"field":"c","type":"nominal","scale":{"domain":["b","r","g"],"range":["#0000ff","#ff0000","#808080"]},"legend":null}}},
  {"data":{"name":"oiii"},
   "mark":{"type":"point","opacity":0,"clip":true},
   "encoding":{"x":{"field":"v","type":"quantitative","axis":{"orient":"bottom","values":[-45,-35,-30,-25,-15,-10,-5,5,10,15,25,30,35,45],"labels":false,"tickSize":-4,"title":null}},
     "y":{"field":"d","type":"quantitative","axis":{"orient":"left","values":[-1.2,-1.1,-0.9,-0.8,-0.7,-0.6,-0.4,-0.3,-0.2,-0.1,0.1,0.2,0.3,0.4,0.6,0.7,0.8,0.9,1.1,1.2],"labels":false,"tickSize":-4,"title":null}}}},
  {"data":{"name":"oiii"},
   "mark":{"type":"point","opacity":0,"clip":true},
   "encoding":{"x":{"field":"v","type":"quantitative","axis":{"orient":"top","values":[-45,-35,-30,-25,-15,-10,-5,5,10,15,25,30,35,45],"labels":false,"tickSize":-4,"title":null}},
     "y":{"field":"d","type":"quantitative","axis":{"orient":"right","values":[-1.2,-1.1,-0.9,-0.8,-0.7,-0.6,-0.4,-0.3,-0.2,-0.1,0.1,0.2,0.3,0.4,0.6,0.7,0.8,0.9,1.1,1.2],"labels":false,"tickSize":-4,"title":null}}}}
 ],
 "resolve":{"axis":{"x":"independent","y":"independent"}}
}
]
}
